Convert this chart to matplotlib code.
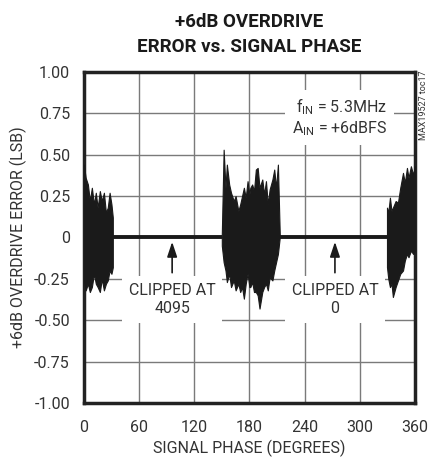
import numpy as np
import matplotlib
matplotlib.use('Agg')
import matplotlib.pyplot as plt

plt.rcParams['font.family'] = ['Roboto', 'DejaVu Sans']
plt.rcParams['mathtext.fontset'] = 'custom'
plt.rcParams['mathtext.rm'] = 'Roboto'

# Error bursts (phase in degrees, upper / lower envelope in LSB)
burst1_phase = [0, 2, 4.4, 6.5, 8.7, 11, 13, 15, 17.4, 19.5, 21.8, 24, 26, 28, 30, 31.5]
burst1_upper = [0.44, 0.36, 0.32, 0.22, 0.30, 0.20, 0.27, 0.18, 0.28, 0.22, 0.27, 0.15, 0.18, 0.27, 0.20, 0.12]
burst1_lower = [-0.26, -0.32, -0.28, -0.33, -0.30, -0.22, -0.28, -0.30, -0.33, -0.25, -0.32, -0.28, -0.26, -0.20, -0.22, -0.18]

burst2_phase = [150, 152, 154, 155.5, 158, 160, 163, 165, 168, 170, 172, 174, 176, 178, 180, 181, 183, 185,
                187, 189, 191, 194, 196, 198, 200, 202, 205, 207, 209, 211, 213]
burst2_upper = [0.02, 0.53, 0.30, 0.44, 0.32, 0.27, 0.22, 0.25, 0.16, 0.20, 0.25, 0.30, 0.24, 0.34, 0.26, 0.30,
                0.32, 0.28, 0.41, 0.42, 0.30, 0.35, 0.26, 0.34, 0.20, 0.29, 0.35, 0.41, 0.30, 0.44, 0.02]
burst2_lower = [-0.05, -0.15, -0.20, -0.27, -0.22, -0.30, -0.26, -0.32, -0.28, -0.33, -0.30, -0.37, -0.28, -0.22,
                -0.30, -0.30, -0.27, -0.33, -0.33, -0.35, -0.43, -0.33, -0.30, -0.28, -0.32, -0.24, -0.26, -0.20,
                -0.15, -0.10, 0.0]

burst3_phase = [329.6, 331, 332.8, 334.5, 336, 339, 341.5, 344, 347, 349, 351.3, 353, 355.6, 358, 360]
burst3_upper = [0.18, 0.15, 0.24, 0.16, 0.18, 0.22, 0.21, 0.30, 0.39, 0.33, 0.42, 0.36, 0.43, 0.38, 0.43]
burst3_lower = [-0.18, -0.25, -0.30, -0.28, -0.36, -0.30, -0.26, -0.22, -0.20, -0.14, -0.10, -0.12, -0.08, -0.10, -0.08]

# Flat clipped regions at 0 LSB
clip_segments = [(31.5, 150), (213, 329.6)]
clip_labels = ['CLIPPED AT\n4095', 'CLIPPED AT\n0']
clip_arrow_x = [96, 273]

x_ticks = [0, 60, 120, 180, 240, 300, 360]
y_ticks = [1.0, 0.75, 0.5, 0.25, 0, -0.25, -0.5, -0.75, -1.0]
y_ticklabels = ['1.00', '0.75', '0.50', '0.25', '0', '-0.25', '-0.50', '-0.75', '-1.00']

fig = plt.figure(figsize=(4.30, 4.61), dpi=100)
ax = fig.add_axes([0.195, 0.126, 0.770, 0.718])

for ph, up, lo in [(burst1_phase, burst1_upper, burst1_lower),
                   (burst2_phase, burst2_upper, burst2_lower),
                   (burst3_phase, burst3_upper, burst3_lower)]:
    ax.fill_between(ph, lo, up, color='#1a1a1a', lw=0.8, zorder=3)

for x0, x1 in clip_segments:
    ax.plot([x0, x1], [0, 0], color='#1a1a1a', lw=2.8, zorder=3, solid_capstyle='butt')

for xa, lab in zip(clip_arrow_x, clip_labels):
    ax.annotate('', xy=(xa, -0.01), xytext=(xa, -0.23),
                arrowprops=dict(arrowstyle='-|>,head_length=0.9,head_width=0.3',
                                color='#1a1a1a', lw=1.2), zorder=4)
    ax.text(xa, -0.375, lab, ha='center', va='center', fontsize=11.5,
            color='#333333', linespacing=1.2, zorder=5,
            bbox=dict(facecolor='white', edgecolor='none', pad=5))

ax.text(330, 0.725, '$\\mathregular{f_{IN}}$ = 5.3MHz\n$\\mathregular{A_{IN}}$ = +6dBFS',
        ha='right', va='center', fontsize=11.5, color='#333333',
        linespacing=1.15, zorder=5,
        bbox=dict(facecolor='white', edgecolor='none', pad=5))

ax.set_xlim(0, 360)
ax.set_ylim(-1, 1)
ax.set_xticks(x_ticks)
ax.set_yticks(y_ticks)
ax.set_yticklabels(y_ticklabels)
ax.tick_params(length=0, labelsize=11.5, colors='#333333')
ax.tick_params(axis='y', pad=10)
ax.tick_params(axis='x', pad=12)
ax.grid(True, color='#7a7a7a', lw=1.0)
ax.set_axisbelow(True)
for s in ax.spines.values():
    s.set_linewidth(2.5)
    s.set_color('#222222')

ax.set_xlabel('SIGNAL PHASE (DEGREES)', fontsize=11.5, color='#333333', labelpad=4)
ax.set_ylabel('+6dB OVERDRIVE ERROR (LSB)', fontsize=11.5, color='#333333', labelpad=5)

fig.text(0.579, 0.952, '+6dB OVERDRIVE', ha='center', va='center',
         fontsize=13.5, fontweight='bold', color='#1a1a1a')
fig.text(0.579, 0.899, 'ERROR vs. SIGNAL PHASE', ha='center', va='center',
         fontsize=13.5, fontweight='bold', color='#1a1a1a')

fig.text(0.984, 0.846, 'MAX19527 toc17', rotation=90, ha='center', va='top',
         fontsize=6.5, color='#333333')

fig.savefig('out.png', dpi=100)
